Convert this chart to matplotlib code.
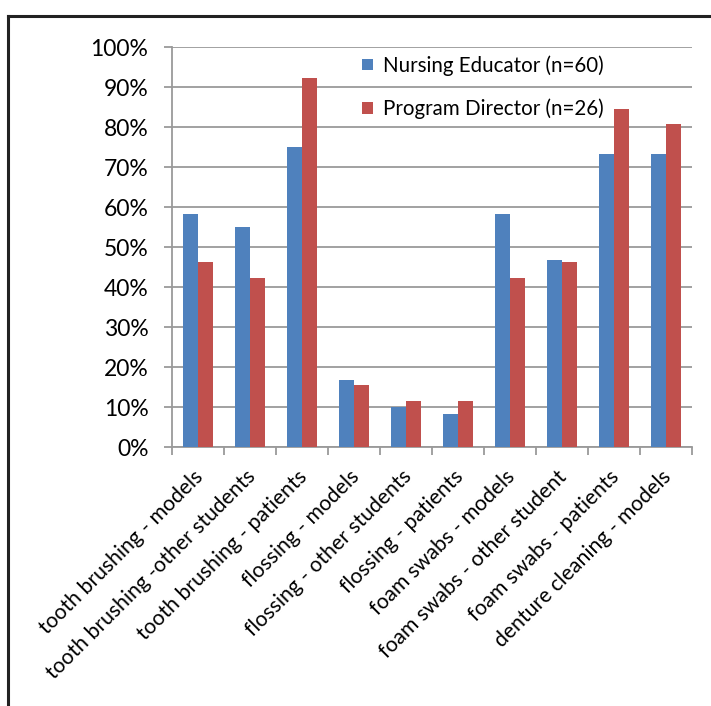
import matplotlib.pyplot as plt
import matplotlib.transforms as mtransforms
from matplotlib.lines import Line2D
import numpy as np

plt.rcParams['font.family'] = ['Lato', 'DejaVu Sans']

categories = ['tooth brushing - models', 'tooth brushing -other students',
              'tooth brushing - patients', 'flossing - models',
              'flossing - other students', 'flossing - patients',
              'foam swabs - models', 'foam swabs - other student',
              'foam swabs - patients', 'denture cleaning - models']
educator = [58.3, 55.0, 75.0, 16.7, 10.0, 8.3, 58.3, 46.7, 73.3, 73.3]
director = [46.2, 42.3, 92.3, 15.4, 11.5, 11.5, 42.3, 46.2, 84.6, 80.8]
series_labels = ['Nursing Educator (n=60)', 'Program Director (n=26)']

blue = '#4F81BD'
red = '#C0504D'
grid_col = '#9a9a9a'

fig = plt.figure(figsize=(7.11, 7.06), dpi=100)
ax = fig.add_axes([172 / 711, 1 - 447 / 706, 520 / 711, 400 / 706])

x = np.arange(len(categories))
w = 0.29
ax.bar(x - w / 2, educator, w, color=blue, label=series_labels[0], zorder=3)
ax.bar(x + w / 2, director, w, color=red, label=series_labels[1], zorder=3)

ax.set_xlim(-0.5, len(categories) - 0.5)
ax.set_ylim(0, 100)
ax.set_yticks(range(0, 101, 10))
ax.set_yticklabels([f'{v}%' for v in range(0, 101, 10)], fontsize=16.5)
ax.yaxis.grid(True, color=grid_col, linewidth=1.3, zorder=0)
ax.tick_params(axis='y', length=6, color=grid_col, width=1.3, pad=11)

ax.set_xticks(x)
ax.set_xticklabels(categories, rotation=45, ha='right', rotation_mode='anchor', fontsize=15.2)
ax.tick_params(axis='x', which='major', length=0, pad=14)
ax.set_xticks(np.arange(-0.5, len(categories)), minor=True)
ax.tick_params(axis='x', which='minor', length=6, color=grid_col, width=1.3)

# nudge the slanted labels a bit to the left
shift = mtransforms.ScaledTranslation(-5 / 100, 0, fig.dpi_scale_trans)
for lab in ax.get_xticklabels():
    lab.set_transform(lab.get_transform() + shift)

for s in ['top', 'right']:
    ax.spines[s].set_visible(False)
for s in ['left', 'bottom']:
    ax.spines[s].set_color(grid_col)
    ax.spines[s].set_linewidth(1.3)

ax.legend(loc='upper left', bbox_to_anchor=(0.35, 1.0), frameon=False,
          fontsize=14.8, labelspacing=1.12, handlelength=0.5, handleheight=0.5,
          handletextpad=0.5, borderaxespad=0)

# outer frame (left and top only)
fig.add_artist(Line2D([8 / 711, 8 / 711], [0, 1 - 16 / 706], color='#222222', lw=2.2))
fig.add_artist(Line2D([8 / 711, 1], [1 - 16 / 706, 1 - 16 / 706], color='#222222', lw=2.2))

fig.savefig('out.png', dpi=100)
